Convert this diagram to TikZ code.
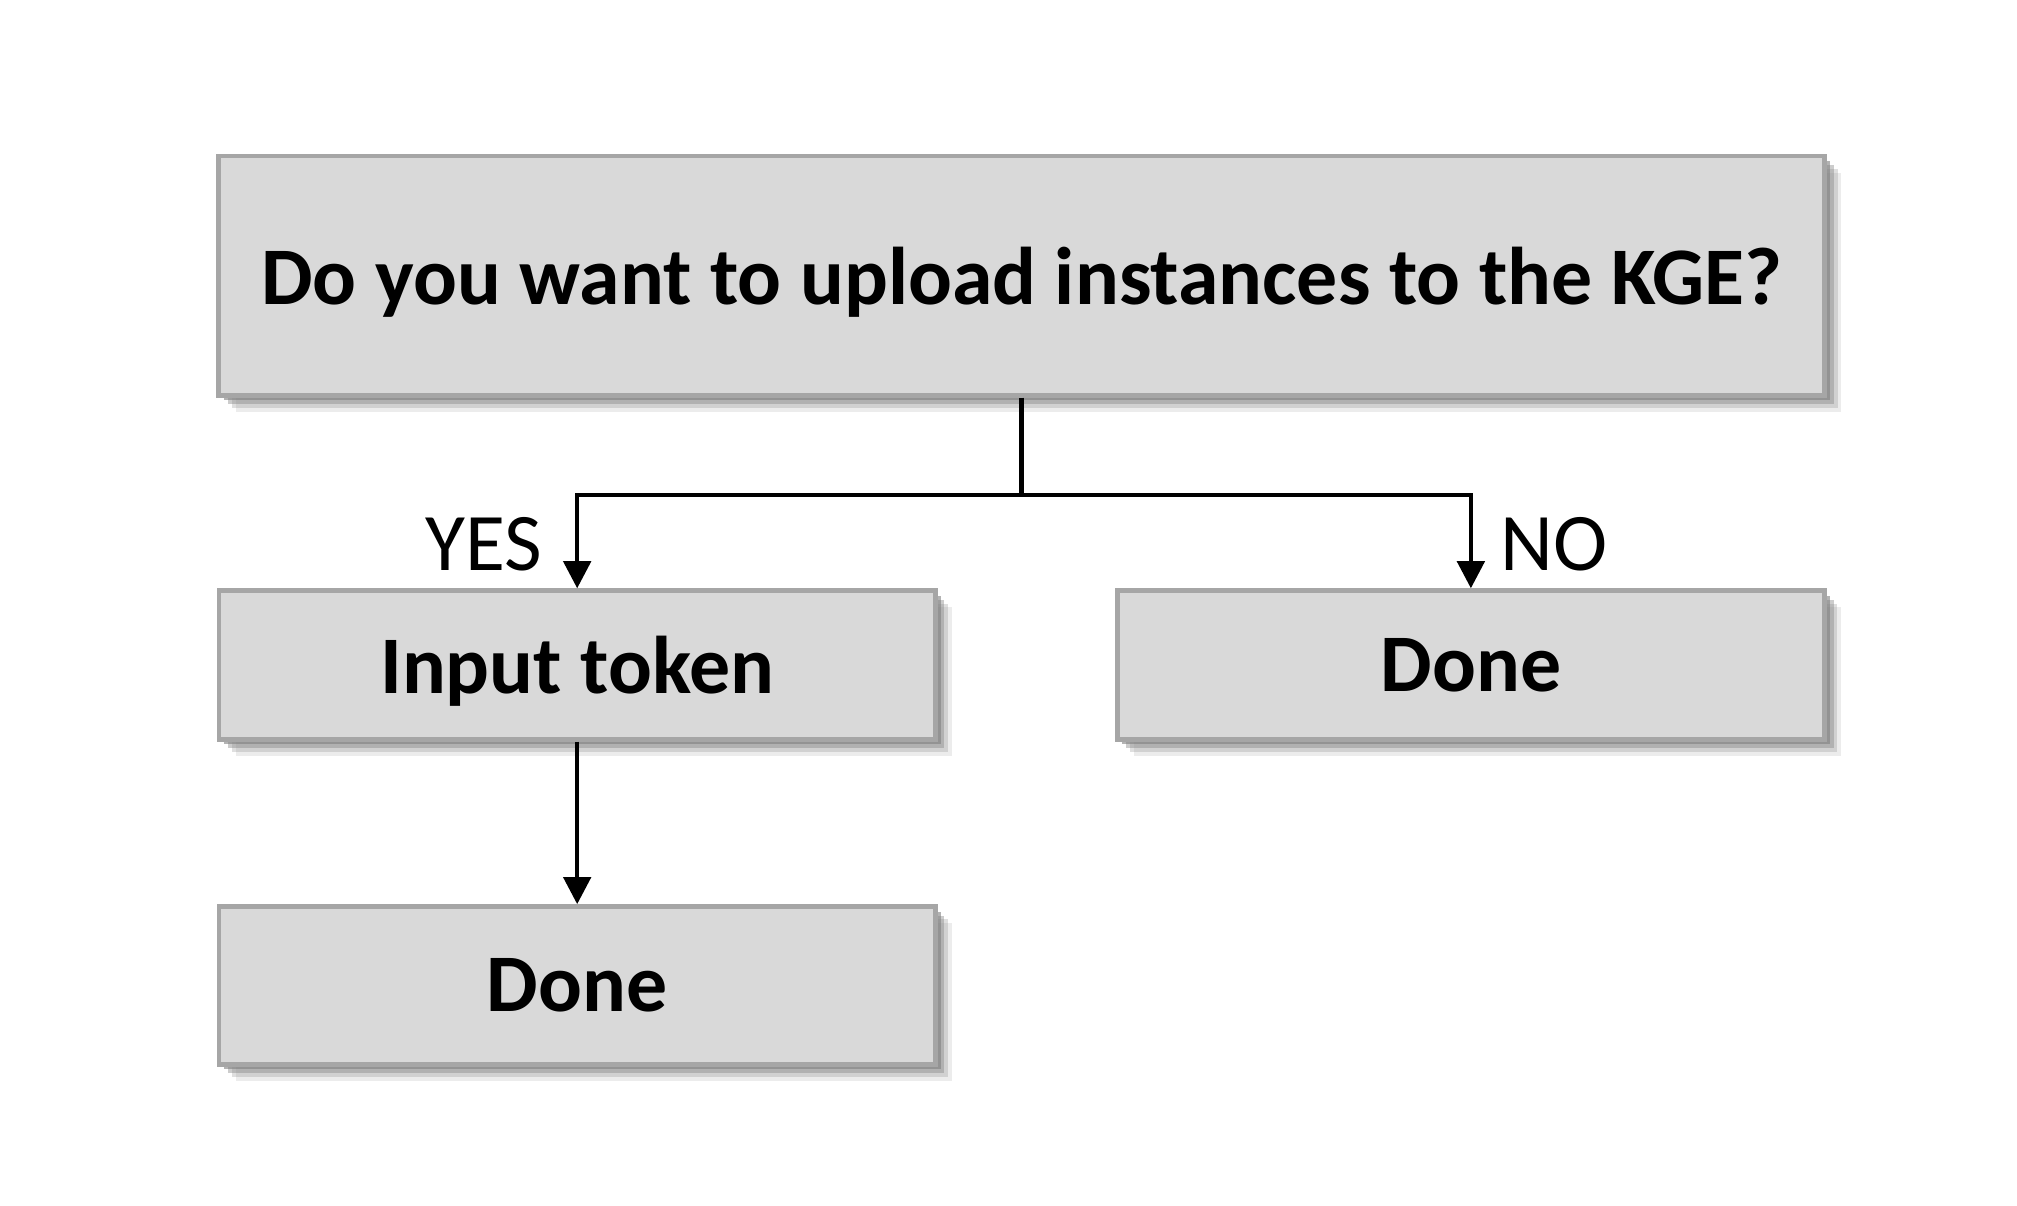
\documentclass[tikz,border=0pt]{standalone}
\usepackage{fontspec}
\setmainfont{Carlito}
\usetikzlibrary{calc}
\usetikzlibrary{arrows.meta}
\usetikzlibrary{shadows}
\definecolor{boxfill}{HTML}{D9D9D9}
\definecolor{boxline}{HTML}{A6A6A6}
\tikzset{
 flowbox/.style={draw=boxline, fill=boxfill, line width=1pt, inner sep=0, text depth=0pt,
   font=\fontsize{18}{22}\selectfont\bfseries,
   drop shadow={shadow xshift=.13cm, shadow yshift=-.13cm, fill=black!50, opacity=.15},
   drop shadow={shadow xshift=.10cm, shadow yshift=-.10cm, fill=black!50, opacity=.25},
   drop shadow={shadow xshift=.07cm, shadow yshift=-.07cm, fill=black!50, opacity=.4},
   drop shadow={shadow xshift=.04cm, shadow yshift=-.04cm, fill=black!50, opacity=.6}},
 flowarrow/.style={black, line width=1pt, -{Triangle[length=.21cm,width=.21cm]}},
 answer/.style={font=\fontsize{18}{22}\selectfont, inner sep=0}
}
\begin{document}
\begin{tikzpicture}
\useasboundingbox (0,0) rectangle (15.6,9.32);
\node[flowbox, minimum width=12.42cm, minimum height=1.85cm] (ask) at (7.902,7.188) {Do you want to upload instances to the KGE?};
\node[flowbox, minimum width=5.54cm, minimum height=1.15cm] (token) at (4.464,4.177) {Input token};
\node[flowbox, minimum width=5.47cm, minimum height=1.15cm] (doneno) at (11.376,4.177) {Done};
\node[flowbox, minimum width=5.54cm, minimum height=1.22cm] (doneyes) at (4.464,1.699) {Done};
\coordinate (split) at (ask.south |- 0,5.491);
\draw[black, line width=1pt] (ask.south) -- (split);
\draw[flowarrow] (split) -| (token.north);
\draw[flowarrow] (split) -| (doneno.north);
\draw[flowarrow] (token.south) -- (doneyes.north);
\node[answer, anchor=base east] (yes) at (4.20,4.91) {YES};
\node[answer, anchor=base west] (no) at (11.60,4.91) {NO};
\end{tikzpicture}
\end{document}
